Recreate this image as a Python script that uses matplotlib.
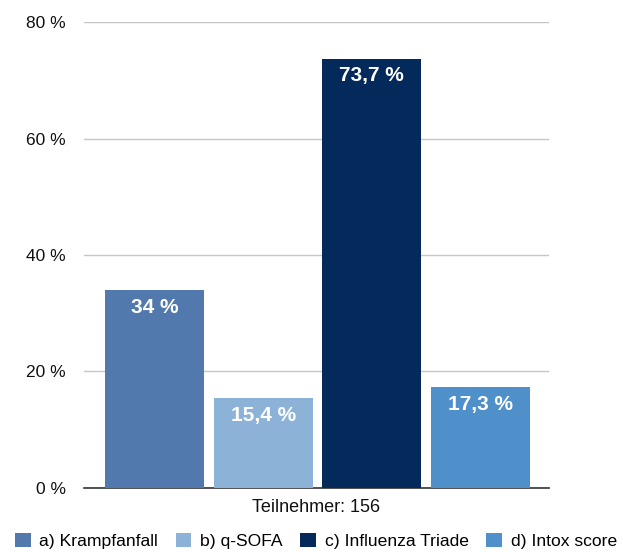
import numpy as np
import matplotlib.pyplot as plt
from matplotlib.patches import Patch

plt.rcParams['font.family'] = ['Liberation Sans', 'DejaVu Sans']

# data
categories = ['a) Krampfanfall', 'b) q-SOFA', 'c) Influenza Triade', 'd) Intox score']
values = [34.0, 15.4, 73.7, 17.3]
value_labels = ['34 %', '15,4 %', '73,7 %', '17,3 %']
colors = ['#5279ad', '#8db2d8', '#032a5a', '#4f8fca']
yticks = [0, 20, 40, 60, 80]

fig = plt.figure(figsize=(6.23, 5.52), dpi=100)
ax = fig.add_axes([0.135, 0.116, 0.746, 0.844])

x = np.arange(len(values))
bars = ax.bar(x, values, width=0.91, color=colors, zorder=3)

for b, lab in zip(bars, value_labels):
    ax.text(b.get_x() + b.get_width() / 2, b.get_height() - 1.3, lab,
            ha='center', va='top', color='white', fontsize=15, fontweight='bold')

ax.set_xlim(-0.649, 3.63)
ax.set_ylim(0, 80)
ax.set_yticks(yticks)
ax.set_yticklabels([f'{t} %' for t in yticks], fontsize=12.5, color='#111111')
ax.set_xticks([])
ax.grid(axis='y', color='#c6c6c6', linewidth=1, zorder=0)
ax.tick_params(axis='y', length=0, pad=13)
for s in ['top', 'right', 'left']:
    ax.spines[s].set_visible(False)
ax.spines['bottom'].set_color('#333333')
ax.spines['bottom'].set_linewidth(1.2)
ax.set_xlabel('Teilnehmer: 156', fontsize=13, color='#111111', labelpad=8)

handles = [Patch(facecolor=c) for c in colors]
fig.legend(handles, categories, loc='center', bbox_to_anchor=(0.507, 0.02), ncol=4,
           frameon=False, fontsize=12.6, handlelength=0.9, handleheight=0.9,
           handletextpad=0.5, columnspacing=1.0, borderaxespad=0)

fig.savefig('out.png', dpi=100)
